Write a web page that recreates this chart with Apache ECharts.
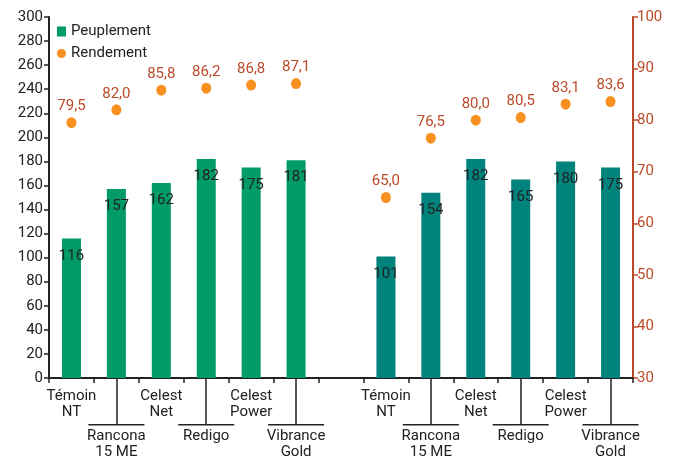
<!DOCTYPE html>
<html>
<head>
<meta charset="utf-8">
<script src="https://cdn.jsdelivr.net/npm/echarts@6/dist/echarts.min.js"></script>
<style>html,body{margin:0;padding:0;background:#fff;}#c{width:673px;height:460px;}</style>
</head>
<body>
<div id="c"></div>
<script>
const categories = ['Témoin\nNT','Rancona\n15 ME','Celest\nNet','Redigo','Celest\nPower','Vibrance\nGold','',
                    'Témoin\nNT','Rancona\n15 ME','Celest\nNet','Redigo','Celest\nPower','Vibrance\nGold'];
const peuplement = [116,157,162,182,175,181,null,101,154,182,165,180,175];
const rendement = [79.5,82.0,85.8,86.2,86.8,87.1,null,65.0,76.5,80.0,80.5,83.1,83.6];
const groupSize = 6;

const FONT = "'Liberation Sans Narrow', 'Roboto', 'Liberation Sans', sans-serif";
const GREEN = '#009B68', TEAL = '#00827D', ORANGE = '#F7901E', RUST = '#BB4A28', DARK = '#222';

function isLower(i) {
  const g = i < groupSize ? i : i - groupSize - 1;
  return g % 2 === 1;
}

const chart = echarts.init(document.getElementById('c'), null, {renderer: 'canvas'});
chart.setOption({
  animation: false,
  textStyle: {fontFamily: FONT},
  grid: {left: 49, right: 40, top: 17, bottom: 79, containLabel: false},
  legend: {
    orient: 'vertical', left: 52, top: 19, itemWidth: 9, itemHeight: 10, itemGap: 7,
    textStyle: {fontSize: 15, color: DARK, fontFamily: FONT},
    data: [
      {name: 'Peuplement', icon: 'rect', itemStyle: {color: GREEN}},
      {name: 'Rendement', icon: 'circle', itemStyle: {color: ORANGE}}
    ]
  },
  xAxis: [{
    type: 'category', data: categories, position: 'bottom',
    axisLine: {lineStyle: {color: DARK, width: 2}},
    axisTick: {show: true, interval: 0, length: 5, lineStyle: {color: DARK, width: 1.5}},
    axisLabel: {
      interval: 0, margin: 10, color: DARK,
      formatter: function (value, index) {
        if (!value) return '';
        const lines = value.split('\n').map(l => '{t|' + l + '}').join('\n');
        return isLower(index) ? '{gap| }\n{hl| }\n{gap2| }\n' + lines : lines;
      },
      rich: {
        t: {fontSize: 15, lineHeight: 16, color: DARK, fontFamily: FONT},
        gap: {fontSize: 1, lineHeight: 36},
        hl: {fontSize: 1, lineHeight: 1.5, height: 1.5, width: 56, backgroundColor: DARK},
        gap2: {fontSize: 1, lineHeight: 3}
      }
    }
  }, {
    type: 'category', data: categories, position: 'bottom',
    axisLine: {show: false},
    axisLabel: {show: false},
    axisTick: {
      show: true, alignWithLabel: true, length: 47,
      interval: function (index) { return categories[index] !== '' && isLower(index); },
      lineStyle: {color: DARK, width: 1.5}
    }
  }],
  yAxis: [{
    type: 'value', min: 0, max: 300, interval: 20, position: 'left',
    splitLine: {show: false},
    axisLine: {show: true, lineStyle: {color: DARK, width: 2}},
    axisTick: {show: true, length: 5, lineStyle: {color: DARK, width: 1.5}},
    axisLabel: {fontSize: 15, color: DARK, margin: 6, fontFamily: FONT}
  }, {
    type: 'value', min: 30, max: 100, interval: 10, position: 'right',
    splitLine: {show: false},
    axisLine: {show: true, lineStyle: {color: RUST, width: 2}},
    axisTick: {show: true, length: 5, lineStyle: {color: RUST, width: 1.5}},
    axisLabel: {fontSize: 15, color: RUST, margin: 4, fontFamily: FONT}
  }],
  series: [{
    name: 'Peuplement', type: 'bar', xAxisIndex: 0, yAxisIndex: 0, barWidth: 19,
    data: peuplement,
    itemStyle: {color: p => p.dataIndex < groupSize ? GREEN : TEAL},
    label: {show: true, position: 'insideTop', distance: 10, color: DARK, fontSize: 15, fontFamily: FONT}
  }, {
    name: 'Rendement', type: 'scatter', xAxisIndex: 0, yAxisIndex: 1,
    symbol: 'circle', symbolSize: [10, 11],
    data: rendement,
    itemStyle: {color: ORANGE, opacity: 1},
    label: {
      show: true, position: 'top', distance: 3, color: RUST, fontSize: 15, fontFamily: FONT,
      formatter: p => p.value == null ? '' : Number(p.value).toFixed(1).replace('.', ',')
    }
  }]
});
</script>
</body>
</html>
